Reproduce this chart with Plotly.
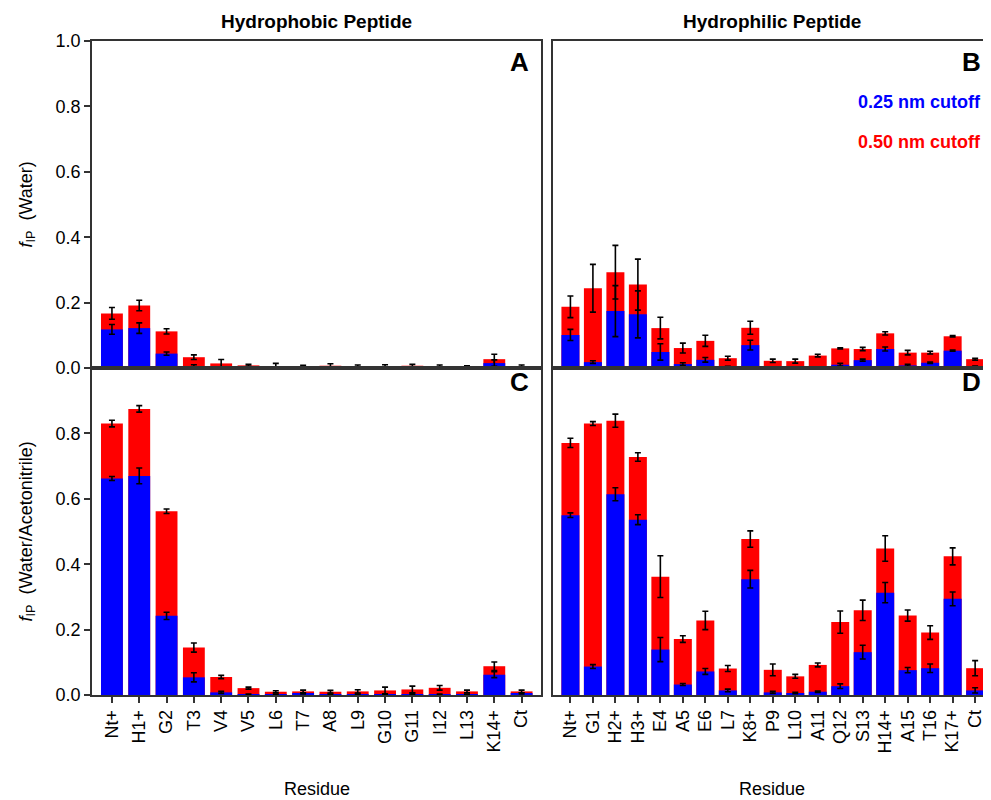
import plotly.graph_objects as go

# ---------------- data ----------------
res_phobic = ["Nt+", "H1+", "G2", "T3", "V4", "V5", "L6", "T7", "A8", "L9",
              "G10", "G11", "I12", "L13", "K14+", "Ct"]
res_philic = ["Nt+", "G1", "H2+", "H3+", "E4", "A5", "E6", "L7", "K8+", "P9",
              "L10", "A11", "Q12", "S13", "H14+", "A15", "T16", "K17+", "Ct"]

# Panel A: hydrophobic, water
a_050 = [0.167, 0.191, 0.112, 0.033, 0.014, 0.008, 0.006, 0.005, 0.007, 0.006,
         0.006, 0.007, 0.006, 0.004, 0.027, 0.005]
a_050_err = [0.018, 0.016, 0.008, 0.007, 0.012, 0.003, 0.008, 0.003, 0.006, 0.003,
             0.004, 0.004, 0.003, 0.003, 0.015, 0.004]
a_025 = [0.118, 0.122, 0.044, 0.006, 0.002, 0.001, 0.001, 0.001, 0.001, 0.001,
         0.001, 0.001, 0.001, 0.001, 0.015, 0.001]
a_025_err = [0.015, 0.016, 0.005, 0.004, 0.002, 0.001, 0.001, 0.001, 0.001, 0.001,
             0.001, 0.001, 0.001, 0.001, 0.010, 0.001]

# Panel B: hydrophilic, water
b_050 = [0.187, 0.244, 0.293, 0.255, 0.122, 0.061, 0.083, 0.030, 0.123, 0.022,
         0.021, 0.038, 0.060, 0.058, 0.106, 0.047, 0.047, 0.097, 0.027]
b_050_err = [0.033, 0.073, 0.082, 0.078, 0.033, 0.015, 0.017, 0.006, 0.020, 0.005,
             0.006, 0.004, 0.002, 0.005, 0.005, 0.007, 0.004, 0.002, 0.003]
b_025 = [0.101, 0.018, 0.174, 0.164, 0.049, 0.012, 0.025, 0.003, 0.070, 0.002,
         0.002, 0.002, 0.010, 0.024, 0.058, 0.008, 0.016, 0.053, 0.004]
b_025_err = [0.017, 0.004, 0.078, 0.072, 0.025, 0.004, 0.007, 0.002, 0.015, 0.001,
             0.001, 0.001, 0.004, 0.003, 0.006, 0.003, 0.002, 0.002, 0.002]

# Panel C: hydrophobic, water/acetonitrile
c_050 = [0.830, 0.875, 0.562, 0.145, 0.055, 0.021, 0.010, 0.011, 0.010, 0.011,
         0.014, 0.017, 0.022, 0.011, 0.088, 0.011]
c_050_err = [0.010, 0.010, 0.007, 0.014, 0.005, 0.003, 0.003, 0.004, 0.004, 0.005,
             0.010, 0.010, 0.007, 0.004, 0.013, 0.004]
c_025 = [0.662, 0.670, 0.242, 0.054, 0.008, 0.002, 0.002, 0.005, 0.002, 0.002,
         0.002, 0.003, 0.002, 0.002, 0.062, 0.005]
c_025_err = [0.006, 0.024, 0.011, 0.014, 0.003, 0.001, 0.001, 0.002, 0.001, 0.001,
             0.001, 0.002, 0.001, 0.001, 0.009, 0.002]

# Panel D: hydrophilic, water/acetonitrile
d_050 = [0.771, 0.830, 0.839, 0.728, 0.362, 0.171, 0.228, 0.081, 0.477, 0.077,
         0.057, 0.092, 0.223, 0.259, 0.448, 0.243, 0.191, 0.424, 0.082]
d_050_err = [0.014, 0.006, 0.020, 0.013, 0.064, 0.010, 0.028, 0.009, 0.025, 0.018,
             0.006, 0.006, 0.034, 0.031, 0.039, 0.017, 0.021, 0.026, 0.023]
d_025 = [0.550, 0.087, 0.614, 0.536, 0.139, 0.032, 0.072, 0.014, 0.354, 0.008,
         0.006, 0.010, 0.027, 0.131, 0.313, 0.076, 0.082, 0.294, 0.014]
d_025_err = [0.007, 0.006, 0.020, 0.015, 0.037, 0.003, 0.009, 0.004, 0.027, 0.003,
             0.002, 0.002, 0.007, 0.021, 0.031, 0.008, 0.013, 0.021, 0.008]

titles = ["Hydrophobic Peptide", "Hydrophilic Peptide"]
panel_letters = ["A", "B", "C", "D"]
legend_labels = ["0.25 nm cutoff", "0.50 nm cutoff"]
y_titles = ["<i>f</i><sub>IP</sub>  (Water)", "<i>f</i><sub>IP</sub>  (Water/Acetonitrile)"]
x_title = "Residue"

# ---------------- figure ----------------
# page body has an 8px margin: the figure is drawn 8px in from the corner and
# only up to x = 983 is visible
OFF = 8
W, H = 975, 792
BLUE, RED = "#0000FF", "#FF0000"
FONT = "Liberation Sans, Arial, sans-serif"

def px_x(p):
    return (p - OFF) / W

def px_y(p):
    return 1 - (p - OFF) / H

fig = go.Figure()

panels = [
    ("x", "y", res_phobic, a_050, a_050_err, a_025, a_025_err),
    ("x2", "y2", res_philic, b_050, b_050_err, b_025, b_025_err),
    ("x3", "y3", res_phobic, c_050, c_050_err, c_025, c_025_err),
    ("x4", "y4", res_philic, d_050, d_050_err, d_025, d_025_err),
]

for xa, ya, cats, r, re, b, be in panels:
    fig.add_trace(go.Bar(x=cats, y=r, width=0.8, xaxis=xa, yaxis=ya,
                         marker=dict(color=RED, line=dict(width=0)),
                         error_y=dict(type="data", array=re, color="black",
                                      thickness=1.6, width=3),
                         showlegend=False))
    fig.add_trace(go.Bar(x=cats, y=b, width=0.8, xaxis=xa, yaxis=ya,
                         marker=dict(color=BLUE, line=dict(width=0)),
                         error_y=dict(type="data", array=be, color="black",
                                      thickness=1.6, width=3),
                         showlegend=False))

LINE = "#333333"
left_dom = [px_x(92), px_x(541)]
right_dom = [px_x(553), 1.0]
top_dom = [px_y(368), px_y(41)]
bot_dom = [px_y(695), px_y(368)]

TICKSIZE = 18
common_x = dict(showline=True, linecolor=LINE, linewidth=1.5, showgrid=False,
                zeroline=False, automargin=False,
                tickfont=dict(family=FONT, size=TICKSIZE, color="black"),
                type="category")
common_y = dict(showline=True, linecolor=LINE, linewidth=1.5, showgrid=False,
                zeroline=False, automargin=False,
                tickfont=dict(family=FONT, size=TICKSIZE, color="black"),
                range=[0, 1.0])

rangeA = [-0.73, 15.71]
rangeB = [-0.775, 18.35]

fig.update_layout(
    template="none",
    width=W, height=H, margin=dict(l=0, r=0, t=0, b=0, pad=0),
    paper_bgcolor="white", plot_bgcolor="white", barmode="overlay",
    bargap=0.2,
    xaxis=dict(common_x, domain=left_dom, anchor="y", range=rangeA,
               showticklabels=False, ticks="", mirror=True),
    yaxis=dict(common_y, domain=top_dom, anchor="x", ticks="outside", ticklen=6,
               tickcolor=LINE, tickwidth=1.5, mirror=True,
               tickvals=[0, 0.2, 0.4, 0.6, 0.8, 1.0],
               ticktext=["0.0", "0.2", "0.4", "0.6", "0.8", "1.0"]),
    xaxis2=dict(common_x, domain=right_dom, anchor="y2", range=rangeB,
                showticklabels=False, ticks="", mirror=True),
    yaxis2=dict(common_y, domain=top_dom, anchor="x2", ticks="",
                showticklabels=False),
    xaxis3=dict(common_x, domain=left_dom, anchor="y3", range=rangeA,
                ticks="outside", ticklen=6, tickcolor=LINE, tickwidth=1.5,
                tickangle=-90, mirror=True),
    yaxis3=dict(common_y, domain=bot_dom, anchor="x3", ticks="outside", ticklen=6,
                tickcolor=LINE, tickwidth=1.5, mirror=True,
                tickvals=[0, 0.2, 0.4, 0.6, 0.8],
                ticktext=["0.0", "0.2", "0.4", "0.6", "0.8"]),
    xaxis4=dict(common_x, domain=right_dom, anchor="y4", range=rangeB,
                ticks="outside", ticklen=6, tickcolor=LINE, tickwidth=1.5,
                tickangle=-90, mirror=True),
    yaxis4=dict(common_y, domain=bot_dom, anchor="x4", ticks="",
                showticklabels=False),
)

ann = []
# column titles
for txt, xc in zip(titles, [316.5, 772]):
    ann.append(dict(text="<b>" + txt + "</b>", x=px_x(xc), y=px_y(22),
                    xref="paper", yref="paper", showarrow=False,
                    font=dict(family=FONT, size=19, color="black"),
                    xanchor="center", yanchor="middle"))
# residue labels
for xc in [316.5, 772]:
    ann.append(dict(text=x_title, x=px_x(xc), y=px_y(789), xref="paper",
                    yref="paper", showarrow=False,
                    font=dict(family=FONT, size=18, color="black"),
                    xanchor="center", yanchor="middle"))
# y titles
for txt, yc in zip(y_titles, [204.5, 531.5]):
    ann.append(dict(text=txt, x=px_x(27), y=px_y(yc), xref="paper", yref="paper",
                    showarrow=False, textangle=-90,
                    font=dict(family=FONT, size=18, color="black"),
                    xanchor="center", yanchor="middle"))
# panel letters
for letter, (xc, yc) in zip(panel_letters, [(531, 62), (983, 62), (531, 382), (983, 382)]):
    ann.append(dict(text="<b>" + letter + "</b>", x=px_x(xc), y=px_y(yc),
                    xref="paper", yref="paper", showarrow=False,
                    font=dict(family=FONT, size=26, color="black"),
                    xanchor="right", yanchor="middle"))
# legend texts
for txt, col, yc in zip(legend_labels, [BLUE, RED], [102, 142]):
    ann.append(dict(text="<b>" + txt + "</b>", x=px_x(983), y=px_y(yc),
                    xref="paper", yref="paper", showarrow=False,
                    font=dict(family=FONT, size=18, color=col),
                    xanchor="right", yanchor="middle"))
fig.update_layout(annotations=ann)

fig.write_html("out.html")
